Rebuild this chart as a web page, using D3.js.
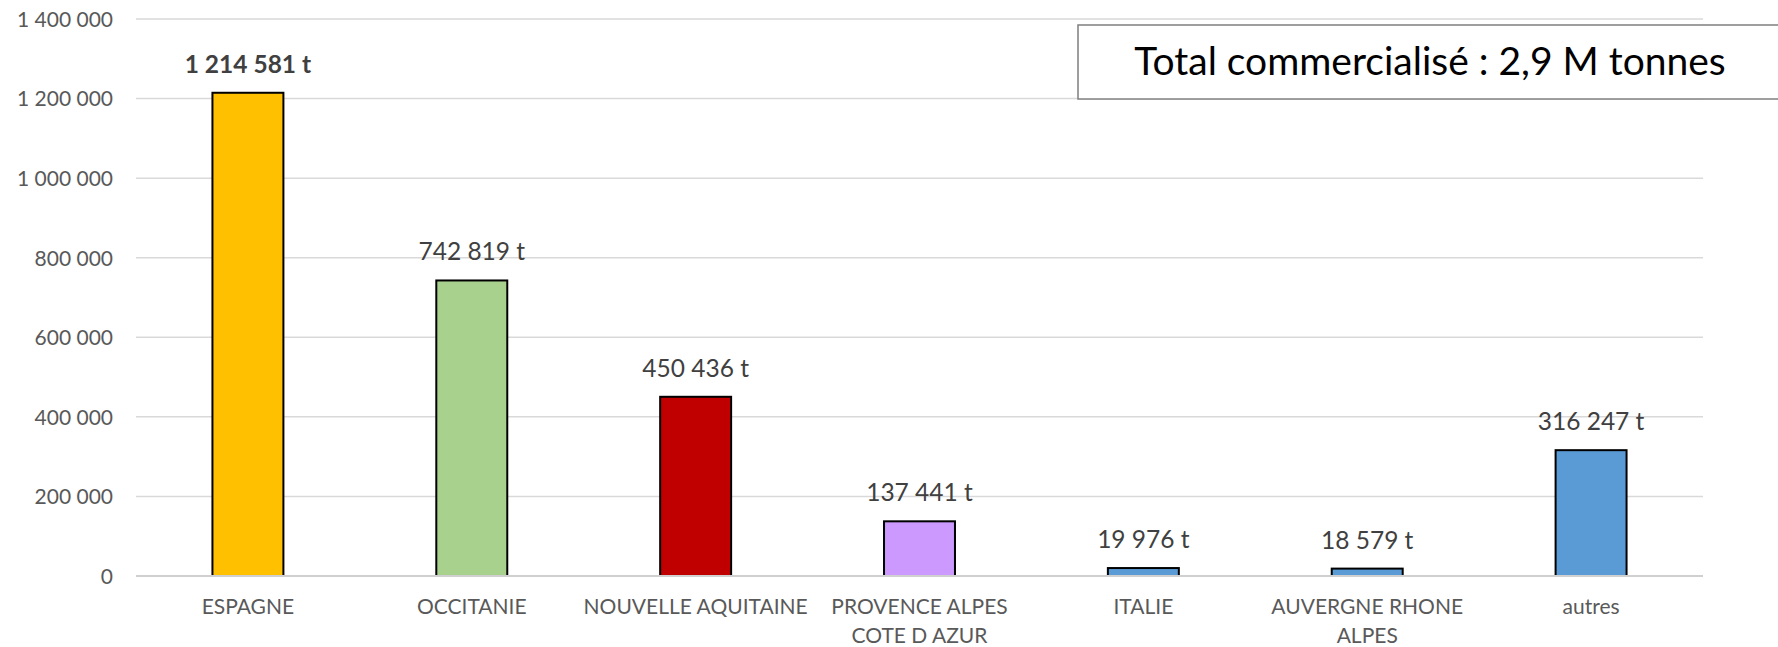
<!DOCTYPE html>
<html>
<head>
<meta charset="utf-8">
<script src="https://cdn.jsdelivr.net/npm/d3@7"></script>
<style>
  html, body { margin: 0; padding: 0; background: #fff; }
  svg { display: block; }
  text { font-family: Lato, "Liberation Sans", sans-serif; }
</style>
</head>
<body>
<svg id="chart" width="1778" height="647"></svg>
<script>
// ---- Data ----
const categories = ["ESPAGNE", "OCCITANIE", "NOUVELLE AQUITAINE", "PROVENCE ALPES|COTE D AZUR", "ITALIE", "AUVERGNE RHONE|ALPES", "autres"];
const values = [1214581, 742819, 450436, 137441, 19976, 18579, 316247];
const valueLabels = ["1 214 581 t", "742 819 t", "450 436 t", "137 441 t", "19 976 t", "18 579 t", "316 247 t"];
const barColors = ["#FFC000", "#A9D18E", "#C00000", "#CC99FF", "#5B9BD5", "#5B9BD5", "#5B9BD5"];
const boldLabel = [true, false, false, false, false, false, false];
const yTicks = [0, 200000, 400000, 600000, 800000, 1000000, 1200000, 1400000];
const yTickLabels = ["0", "200 000", "400 000", "600 000", "800 000", "1 000 000", "1 200 000", "1 400 000"];
const totalText = "Total commercialisé : 2,9 M tonnes";

// ---- Layout ----
const svg = d3.select("#chart");
const plot = { left: 136, right: 1703, top: 19, bottom: 576 };

const x = d3.scaleBand()
  .domain(categories)
  .range([plot.left, plot.right])
  .paddingInner(0.683)
  .paddingOuter(0.3415);

const y = d3.scaleLinear()
  .domain([0, 1400000])
  .range([plot.bottom, plot.top]);

const yAxis = d3.axisLeft(y)
  .tickValues(yTicks)
  .tickSize(0)
  .tickPadding(0)
  .tickFormat((d, i) => yTickLabels[i]);

const gAxis = svg.append("g")
  .attr("transform", `translate(${plot.left},0)`)
  .call(yAxis);
gAxis.select(".domain").remove();
gAxis.selectAll("text")
  .attr("x", -23)
  .attr("dy", "0.35em")
  .attr("fill", "#595959")
  .style("font-size", "21px")
  .style("font-family", "Lato, sans-serif");

svg.append("g").selectAll("line")
  .data(yTicks.filter(d => d !== 0))
  .join("line")
  .attr("x1", plot.left).attr("x2", plot.right)
  .attr("y1", d => y(d)).attr("y2", d => y(d))
  .attr("stroke", "#d9d9d9")
  .attr("stroke-width", 1.5);

// Bars
svg.append("g").selectAll("rect")
  .data(values)
  .join("rect")
  .attr("x", (d, i) => x(categories[i]))
  .attr("width", x.bandwidth())
  .attr("y", d => y(d))
  .attr("height", d => y(0) - y(d))
  .attr("fill", (d, i) => barColors[i])
  .attr("stroke", "#000")
  .attr("stroke-width", 2);

// Zero line on top
svg.append("line")
  .attr("x1", plot.left).attr("x2", plot.right)
  .attr("y1", y(0)).attr("y2", y(0))
  .attr("stroke", "#d0d0d0")
  .attr("stroke-width", 2);

// Value labels
svg.append("g").selectAll("text")
  .data(values)
  .join("text")
  .attr("x", (d, i) => x(categories[i]) + x.bandwidth() / 2)
  .attr("y", d => y(d) - 20)
  .attr("text-anchor", "middle")
  .attr("fill", "#404040")
  .style("font-family", "Lato, sans-serif")
  .style("font-size", "24.5px")
  .style("font-weight", (d, i) => boldLabel[i] ? "bold" : "normal")
  .text((d, i) => valueLabels[i]);

// Category labels (line breaks marked with |)
const catText = svg.append("g").selectAll("text")
  .data(categories)
  .join("text")
  .attr("x", c => x(c) + x.bandwidth() / 2)
  .attr("y", 614)
  .attr("text-anchor", "middle")
  .attr("fill", "#595959")
  .style("font-family", "Lato, sans-serif")
  .style("font-size", "21px");
catText.each(function(c) {
  const cx = x(c) + x.bandwidth() / 2;
  d3.select(this).selectAll("tspan")
    .data(c.split("|"))
    .join("tspan")
    .attr("x", cx)
    .attr("dy", (d, j) => j === 0 ? 0 : 29)
    .text(d => d);
});

// Total box
svg.append("rect")
  .attr("x", 1078).attr("y", 25)
  .attr("width", 720).attr("height", 74)
  .attr("fill", "#fff")
  .attr("stroke", "#7f7f7f")
  .attr("stroke-width", 1.5);
svg.append("text")
  .attr("x", 1430).attr("y", 75)
  .attr("text-anchor", "middle")
  .attr("fill", "#000")
  .style("font-family", "Lato, sans-serif")
  .style("font-size", "39px")
  .text(totalText);
</script>
</body>
</html>
